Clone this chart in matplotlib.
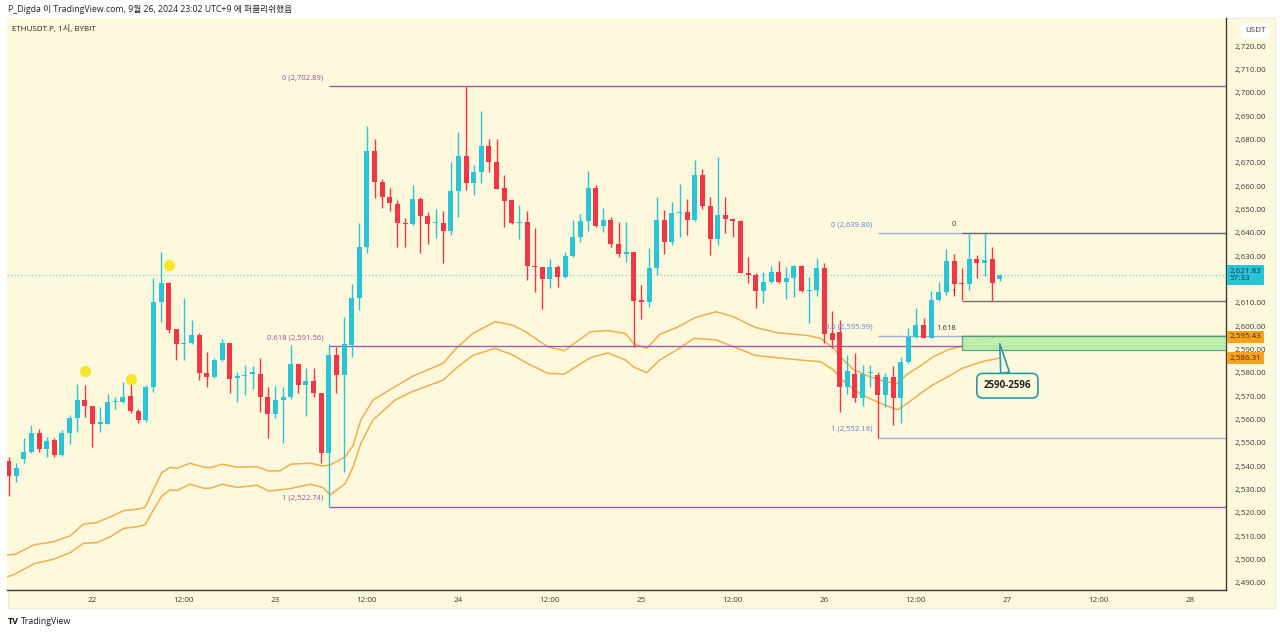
import numpy as np
import pandas as pd
import matplotlib
matplotlib.use("Agg")
import matplotlib.pyplot as plt
from matplotlib.patches import Rectangle
from matplotlib.transforms import blended_transform_factory

plt.rcParams['font.family'] = ['Open Sans', 'Noto Sans CJK KR', 'DejaVu Sans']

# ETHUSDT.P 1h candles, first one is 2024-09-21 13:00
start_time = pd.Timestamp("2024-09-21 13:00")

opens = [2542.3, 2535.8, 2542.9, 2546.0, 2554.1, 2547.3, 2551.2, 2544.7, 2554.4, 2560.5,
         2568.3, 2565.8, 2558.3, 2558.3, 2567.4, 2567.6, 2570.0, 2563.6, 2559.8, 2574.1,
         2610.5, 2618.6, 2598.6, 2592.4, 2592.6, 2596.2, 2580.1, 2578.1, 2585.5, 2592.9,
         2578.0, 2578.6, 2579.6, 2579.5, 2569.5, 2562.3, 2568.3, 2569.7, 2584.0, 2574.8,
         2576.6, 2571.5, 2545.6, 2587.7, 2579.1, 2592.0, 2611.9, 2634.1, 2675.0, 2661.9,
         2655.2, 2652.3, 2644.3, 2643.8, 2654.3, 2647.2, 2644.2, 2644.0, 2640.8, 2657.9,
         2673.0, 2661.2, 2666.2, 2677.2, 2670.5, 2659.0, 2654.0, 2644.2, 2644.5, 2625.8,
         2625.2, 2620.1, 2625.5, 2620.9, 2630.1, 2638.3, 2645.2, 2659.0, 2642.9, 2645.5,
         2635.2, 2630.9, 2631.9, 2611.2, 2610.5, 2625.1, 2645.5, 2636.2, 2648.3, 2648.7,
         2645.5, 2664.7, 2651.6, 2637.2, 2647.6, 2645.8, 2645.2, 2622.9, 2621.9, 2615.2,
         2619.1, 2623.1, 2619.1, 2620.5, 2625.8, 2615.2, 2615.7, 2625.0, 2597.0, 2597.7,
         2574.1, 2579.5, 2569.1, 2579.8, 2579.1, 2570.5, 2578.4, 2569.1, 2584.8, 2595.5,
         2600.5, 2594.8, 2611.2, 2614.8, 2628.1, 2618.6, 2618.1, 2628.6, 2626.9, 2628.6,
         2620.1]
highs = [2544.0, 2541.2, 2551.9, 2557.6, 2555.9, 2552.6, 2552.3, 2555.5, 2561.9, 2575.2,
         2574.7, 2565.8, 2565.5, 2570.9, 2569.7, 2576.2, 2576.2, 2564.4, 2574.8, 2620.5,
         2631.9, 2619.0, 2598.6, 2611.9, 2602.6, 2597.2, 2589.0, 2586.2, 2594.3, 2593.0,
         2580.5, 2583.3, 2582.9, 2586.2, 2574.0, 2574.3, 2574.0, 2591.9, 2584.0, 2581.9,
         2581.9, 2571.5, 2592.4, 2591.0, 2604.1, 2618.1, 2644.0, 2685.7, 2680.0, 2662.9,
         2659.0, 2654.0, 2646.2, 2660.5, 2655.5, 2649.0, 2650.0, 2649.5, 2670.5, 2683.3,
         2702.89, 2669.0, 2692.3, 2680.0, 2680.0, 2664.8, 2654.2, 2651.9, 2649.5, 2641.9,
         2625.5, 2628.6, 2626.2, 2631.9, 2645.5, 2648.0, 2666.6, 2660.5, 2650.5, 2646.9,
         2644.8, 2644.8, 2631.9, 2617.6, 2633.3, 2655.5, 2649.8, 2653.3, 2660.9, 2654.3,
         2671.2, 2667.2, 2655.5, 2672.6, 2655.5, 2646.2, 2645.4, 2629.8, 2622.6, 2623.3,
         2625.8, 2628.0, 2625.5, 2626.2, 2626.0, 2620.9, 2629.0, 2627.2, 2606.5, 2602.7,
         2587.7, 2588.4, 2583.4, 2583.4, 2580.5, 2579.8, 2582.9, 2586.9, 2599.1, 2607.7,
         2603.4, 2615.2, 2619.1, 2632.9, 2630.9, 2624.8, 2639.5, 2630.5, 2639.8, 2634.1,
         2622.2]
lows = [2527.2, 2533.3, 2541.2, 2545.5, 2546.2, 2543.8, 2544.0, 2544.3, 2549.7, 2554.8,
        2561.2, 2548.3, 2554.8, 2558.0, 2564.7, 2566.9, 2562.6, 2558.6, 2559.0, 2571.9,
        2601.9, 2597.0, 2585.5, 2585.5, 2592.3, 2576.9, 2573.8, 2577.6, 2585.2, 2571.2,
        2567.6, 2570.5, 2573.3, 2563.3, 2551.9, 2560.5, 2550.0, 2569.0, 2571.2, 2561.6,
        2569.7, 2541.2, 2522.74, 2571.3, 2537.7, 2587.0, 2607.0, 2631.2, 2654.8, 2650.5,
        2649.5, 2634.1, 2634.1, 2643.3, 2631.2, 2635.2, 2637.6, 2627.2, 2639.1, 2646.9,
        2658.3, 2656.2, 2661.2, 2666.2, 2658.8, 2642.6, 2643.8, 2637.2, 2619.8, 2614.8,
        2607.2, 2616.2, 2616.9, 2620.5, 2629.8, 2636.2, 2640.9, 2642.6, 2640.5, 2634.1,
        2629.8, 2627.6, 2591.2, 2603.0, 2608.4, 2622.0, 2630.9, 2634.8, 2638.3, 2639.1,
        2645.2, 2650.0, 2630.5, 2634.8, 2640.0, 2638.0, 2622.6, 2618.4, 2607.6, 2609.8,
        2618.6, 2618.6, 2611.5, 2612.6, 2614.8, 2601.5, 2612.9, 2592.9, 2590.5, 2563.4,
        2571.0, 2567.7, 2566.0, 2574.0, 2552.18, 2565.5, 2557.7, 2558.4, 2584.1, 2594.8,
        2594.8, 2594.8, 2610.9, 2613.4, 2612.9, 2611.2, 2615.5, 2620.5, 2621.5, 2610.9,
        2619.5]
closes = [2535.8, 2539.1, 2546.2, 2554.1, 2547.2, 2550.9, 2544.7, 2554.4, 2560.5, 2568.3,
          2565.8, 2557.9, 2558.8, 2567.5, 2567.8, 2569.7, 2563.6, 2559.8, 2574.1, 2610.5,
          2618.3, 2598.3, 2592.2, 2592.8, 2596.2, 2580.1, 2578.1, 2585.5, 2592.9, 2577.4,
          2578.6, 2579.2, 2580.5, 2569.5, 2562.3, 2568.3, 2569.7, 2583.6, 2575.0, 2576.6,
          2571.2, 2545.6, 2587.7, 2579.1, 2592.3, 2611.9, 2634.1, 2675.0, 2661.9, 2655.2,
          2652.6, 2644.3, 2643.8, 2654.3, 2647.2, 2643.8, 2644.5, 2640.8, 2657.9, 2673.0,
          2661.2, 2666.2, 2677.2, 2670.5, 2658.9, 2653.8, 2644.0, 2644.5, 2625.8, 2625.2,
          2620.1, 2625.5, 2620.9, 2630.1, 2638.3, 2645.2, 2659.0, 2642.9, 2645.5, 2635.2,
          2630.9, 2631.9, 2610.9, 2610.5, 2625.1, 2645.5, 2636.2, 2648.3, 2648.7, 2645.5,
          2664.7, 2651.6, 2637.2, 2647.6, 2645.8, 2645.1, 2622.9, 2621.9, 2615.2, 2619.1,
          2623.1, 2619.1, 2620.5, 2625.8, 2615.2, 2615.7, 2625.0, 2596.5, 2594.0, 2574.1,
          2580.9, 2569.1, 2579.5, 2580.2, 2570.5, 2578.4, 2569.1, 2584.8, 2595.5, 2600.5,
          2594.8, 2611.2, 2614.8, 2628.1, 2618.1, 2618.1, 2628.6, 2626.9, 2628.3, 2618.6,
          2621.83]

# orange bands (hours after the first candle, price)
band_hours = [-0.1, 0.9, 3.3, 5.9, 8.1, 9.8, 11.6, 13.4, 15.1, 16.9, 17.9, 19.0, 20.1, 21.2,
              22.1, 23.8, 25.6, 26.5, 28.0, 30.0, 32.6, 34.1, 35.6, 37.0, 39.6, 41.2, 42.2,
              44.2, 45.2, 46.2, 47.8, 50.7, 52.9, 57.0, 58.7, 60.9, 63.8, 66.1, 67.8, 70.7,
              72.9, 76.3, 78.6, 80.9, 82.0, 83.7, 85.4, 87.7, 89.9, 92.8, 95.1, 97.9, 100.8,
              104.8, 106.5, 108.2, 109.5, 110.8, 112.6, 114.7, 116.6, 117.9, 119.6, 121.3,
              123.3, 125.1, 127.9, 130.0]
band_upper = [2502.0, 2502.3, 2506.3, 2507.7, 2510.2, 2515.2, 2515.9, 2518.4, 2521.0, 2521.6,
              2522.4, 2529.9, 2537.3, 2539.6, 2539.1, 2541.3, 2539.6, 2539.4, 2540.9, 2539.6,
              2539.8, 2538.0, 2538.0, 2540.9, 2541.3, 2540.1, 2540.6, 2544.1, 2549.0, 2559.8,
              2568.4, 2574.1, 2578.4, 2584.1, 2590.5, 2596.9, 2601.9, 2600.5, 2597.6, 2591.2,
              2589.5, 2597.6, 2598.1, 2596.9, 2592.5, 2590.5, 2596.5, 2599.5, 2603.5, 2606.2,
              2604.0, 2599.5, 2597.2, 2596.0, 2594.8, 2590.5, 2585.5, 2581.5, 2578.8, 2576.5,
              2575.5, 2579.5, 2583.0, 2587.0, 2590.0, 2591.5, 2594.6, 2595.43]
band_lower = [2492.7, 2493.9, 2498.2, 2500.2, 2503.0, 2507.0, 2507.3, 2509.9, 2513.4, 2514.1,
              2514.9, 2521.3, 2527.3, 2529.9, 2529.6, 2532.3, 2530.6, 2530.6, 2532.3, 2530.9,
              2531.9, 2529.4, 2529.9, 2530.5, 2532.3, 2530.9, 2527.7, 2532.7, 2539.8, 2549.8,
              2559.8, 2568.4, 2571.9, 2576.9, 2582.0, 2587.5, 2590.5, 2587.7, 2584.5, 2579.8,
              2579.5, 2586.5, 2588.5, 2585.5, 2582.5, 2580.1, 2585.5, 2590.0, 2594.8, 2594.1,
              2591.2, 2587.5, 2586.5, 2585.2, 2584.8, 2581.2, 2576.5, 2573.0, 2569.5, 2566.5,
              2564.2, 2567.0, 2571.2, 2575.0, 2578.5, 2582.0, 2585.0, 2586.31]

x_tick_times = ["2024-09-22 00:00", "2024-09-22 12:00", "2024-09-23 00:00", "2024-09-23 12:00",
                "2024-09-24 00:00", "2024-09-24 12:00", "2024-09-25 00:00", "2024-09-25 12:00",
                "2024-09-26 00:00", "2024-09-26 12:00", "2024-09-27 00:00", "2024-09-27 12:00",
                "2024-09-28 00:00"]
x_tick_labels = ["22", "12:00", "23", "12:00", "24", "12:00", "25", "12:00", "26", "12:00",
                 "27", "12:00", "28"]
y_ticks = list(range(2490, 2730, 10))

# fib drawings: (start time, level labels, prices)
fib_purple_start = "2024-09-23 07:00"
fib_purple_labels = ["0 (2,702.89)", "0.618 (2,591.56)", "1 (2,522.74)"]
fib_purple_prices = [2702.89, 2591.56, 2522.74]
fib_blue_start = "2024-09-26 07:00"
fib_blue_labels = ["0 (2,639.80)", "0.5 (2,595.99)", "1 (2,552.18)"]
fib_blue_prices = [2639.80, 2595.99, 2552.18]
fib_gray_start = "2024-09-26 18:00"
fib_gray_labels = ["0", "1", "1.618"]
fib_gray_prices = [2639.80, 2610.9, 2595.6]

zone_low, zone_high = 2590.0, 2596.0
zone_text = "2590-2596"
last_price = 2621.83
countdown = "57:33"

dot_times = ["2024-09-21 23:00", "2024-09-22 05:00", "2024-09-22 10:00"]
dot_prices = [2580.8, 2577.4, 2626.2]

up_col = '#29c4d8'
down_col = '#f23645'
cream = '#fef9dd'
band_col = '#f4ad4f'


def hours(t):
    return (pd.Timestamp(t) - start_time) / pd.Timedelta(hours=1)


fig = plt.figure(figsize=(12.8, 6.34), dpi=100)
fig.patch.set_facecolor('white')
frame = Rectangle((8 / 1280, 26 / 634), 1267 / 1280, 590 / 634,
                  transform=fig.transFigure, facecolor=cream,
                  edgecolor='#ecebd8', lw=0.8, zorder=-10)
fig.add_artist(frame)
ax = fig.add_axes([7 / 1280, 44 / 634, 1219 / 1280, 572 / 634])
ax.set_zorder(1)
ax.set_facecolor(cream)
ax.set_xlim(-0.2, 159.67)
ax.set_ylim(2487.0, 2732.0)

# candles
o = np.array(opens)
h = np.array(highs)
l = np.array(lows)
c = np.array(closes)
xs = np.arange(len(o))
colors = np.where(c >= o, up_col, down_col)
body = np.maximum(np.abs(c - o), 0.45)
ax.vlines(xs, l, h, colors=colors, lw=1, zorder=3)
ax.bar(xs, body, bottom=np.minimum(o, c), width=0.66, color=colors, zorder=4)

# bands
bh = np.array(band_hours)
ax.plot(bh, band_upper, color=band_col, lw=1.1, zorder=2)
ax.plot(bh, band_lower, color=band_col, lw=1.1, zorder=2)

# last price dotted line
ax.axhline(last_price, color='#7fd6e2', lw=1, ls=(0, (1, 1.5)), zorder=1)

# yellow dots
ax.plot([hours(t) for t in dot_times], dot_prices, 'o', color='#f6e52b',
        markersize=8, markeredgewidth=0, zorder=5)

right_edge = ax.get_xlim()[1]


def draw_fib(start, labels, prices, line_col, text_col, lw=1):
    x0 = hours(start)
    for lab, p in zip(labels, prices):
        ax.hlines(p, x0, right_edge, colors=line_col, lw=lw, zorder=2)
        ax.annotate(lab, xy=(x0, p), xytext=(-4, 3.5), textcoords='offset points',
                    ha='right', va='bottom', fontsize=5.5, color=text_col, zorder=6)


draw_fib(fib_purple_start, fib_purple_labels, fib_purple_prices, '#a05bb0', '#9a4e9e')
draw_fib(fib_blue_start, fib_blue_labels, fib_blue_prices, '#9aaede', '#5b7fd4')

# 2590-2596 zone
zx0 = hours(fib_gray_start)
ax.add_patch(Rectangle((zx0, zone_low), right_edge - zx0, zone_high - zone_low,
                       facecolor='#b9f0a6', edgecolor='#4b9a7c', lw=0.9, alpha=0.9, zorder=3))
draw_fib(fib_gray_start, fib_gray_labels, fib_gray_prices, '#6e6e6e', '#333333')

ax.annotate(zone_text, xy=(zx0 + 5, 2592.5), xytext=(zx0 + 6, 2574.5),
            ha='center', va='center', fontsize=7, fontweight='bold', color='#222222',
            bbox=dict(boxstyle='round,pad=0.7,rounding_size=0.6', fc=cream, ec='#2b9aa6', lw=1.2),
            arrowprops=dict(arrowstyle='wedge,tail_width=0.9,shrink_factor=0.5', fc=cream,
                            ec='#2b9aa6', lw=1.2, shrinkA=0, shrinkB=0),
            zorder=7)

# axes styling
for side in ['top', 'left']:
    ax.spines[side].set_visible(False)
for side in ['bottom', 'right']:
    ax.spines[side].set_color('#3a3a3a')
    ax.spines[side].set_linewidth(1)

ax.set_xticks([hours(t) for t in x_tick_times])
ax.set_xticklabels(x_tick_labels)
ax.yaxis.tick_right()
ax.set_yticks(y_ticks)
# the tick hidden behind the last-price label is not shown
ax.set_yticklabels(['' if abs(v - last_price) < 4 else f'{v:,.2f}' for v in y_ticks])
ax.tick_params(axis='x', length=0, pad=5, labelsize=5.8, colors='#3a3a3a')
ax.tick_params(axis='y', length=0, pad=6, labelsize=5.8, colors='#3a3a3a')

# price axis labels
tr = blended_transform_factory(ax.transAxes, ax.transData)
ax.text(1.003, last_price, f'{last_price:,.2f}\n{countdown}', transform=tr, ha='left',
        va='center', fontsize=5.8, color='#173a52', linespacing=1.1,
        bbox=dict(boxstyle='square,pad=0.35', fc=up_col, ec='none'), zorder=8, clip_on=False)
ax.text(1.003, band_upper[-1], f'{band_upper[-1]:,.2f}', transform=tr, ha='left', va='center',
        fontsize=5.8, color='#4a2a00', bbox=dict(boxstyle='square,pad=0.3', fc='#f7a21e', ec='none'),
        zorder=8, clip_on=False)
ax.text(1.003, band_lower[-1], f'{band_lower[-1]:,.2f}', transform=tr, ha='left', va='center',
        fontsize=5.8, color='#4a2a00', bbox=dict(boxstyle='square,pad=0.3', fc='#f7a21e', ec='none'),
        zorder=8, clip_on=False)
ax.text(1.0155, 1 - 13 / 572, 'USDT', transform=ax.transAxes, ha='left', va='center',
        fontsize=5.8, color='#3a3a3a', bbox=dict(boxstyle='round,pad=0.5', fc='white', ec='none'),
        clip_on=False)

# header / footer text
ax.text(0.004, 0.981, 'ETHUSDT.P, 1시, BYBIT', transform=ax.transAxes, ha='left', va='center',
        fontsize=5.8, color='#222222')
fig.text(8 / 1280, 1 - 10 / 634, 'P_Digda 이 TradingView.com, 9월 26, 2024 23:02 UTC+9 에 퍼블리쉬했음',
         ha='left', va='center', fontsize=6.3, color='#222222')
fig.text(8 / 1280, 1 - 621 / 634, 'TV', ha='left', va='center', fontsize=6.5,
         fontweight='bold', color='#131722')
fig.text(21 / 1280, 1 - 621 / 634, 'TradingView', ha='left', va='center', fontsize=6.3,
         color='#131722')

fig.savefig('out.png', dpi=100, facecolor='white')
